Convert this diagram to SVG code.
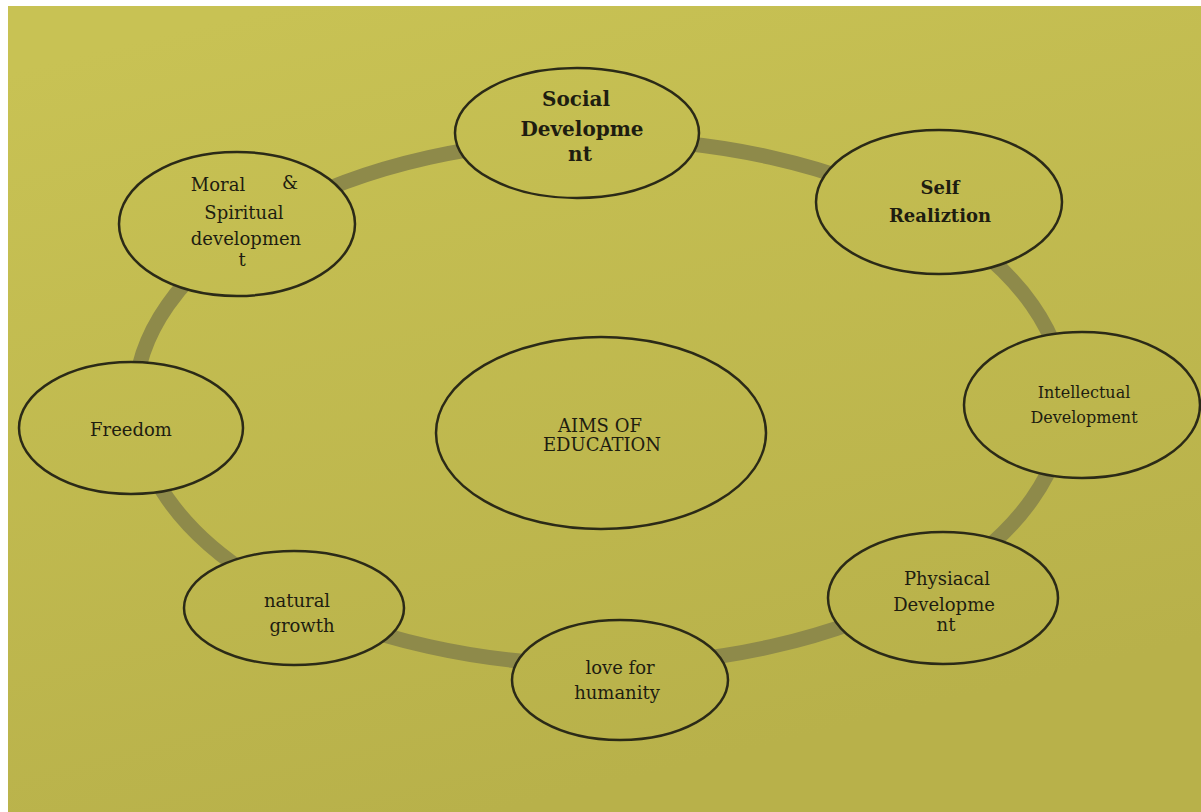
<svg xmlns="http://www.w3.org/2000/svg" width="1201" height="812" viewBox="0 0 1201 812">
<defs>
<linearGradient id="bg" gradientUnits="userSpaceOnUse" x1="300" y1="0" x2="500" y2="812">
<stop offset="0" stop-color="#c8c254"/>
<stop offset="1" stop-color="#b8b14a"/>
</linearGradient>
</defs>
<style>
.node{fill:url(#bg);stroke:#2b2a17;stroke-width:2.5}
.ring{fill:none;stroke:#8e8a4a;stroke-width:15}
.t{font-family:"DejaVu Serif","Liberation Serif",serif;fill:#1e1d10;text-anchor:middle}
.b{font-weight:bold}
.s20{font-size:20px}
.s18{font-size:18px}
.s16{font-size:16px}
</style>
<rect x="0" y="0" width="1201" height="812" fill="#ffffff"/>
<rect x="8" y="6" width="1193" height="806" fill="url(#bg)"/>
<g id="connectors">
<ellipse class="ring" cx="600" cy="402" rx="465" ry="263"/>
</g>
<g id="center">
<ellipse class="node" cx="601" cy="433" rx="165" ry="96"/>
<text class="t s18" x="600" y="432" font-family="DejaVu Serif, serif">AIMS OF</text>
<text class="t s18" x="602" y="451" font-family="DejaVu Serif, serif">EDUCATION</text>
</g>
<g id="social">
<ellipse class="node" cx="577" cy="133" rx="122" ry="65"/>
<text class="t b s20" x="576" y="106" font-family="DejaVu Serif, serif">Social</text>
<text class="t b s20" x="582" y="136" font-family="DejaVu Serif, serif">Developme</text>
<text class="t b s20" x="580" y="161" font-family="DejaVu Serif, serif">nt</text>
</g>
<g id="self">
<ellipse class="node" cx="939" cy="202" rx="123" ry="72"/>
<text class="t b s18" x="940" y="194" font-family="DejaVu Serif, serif">Self</text>
<text class="t b s18" x="940" y="222" font-family="DejaVu Serif, serif">Realiztion</text>
</g>
<g id="intellectual">
<ellipse class="node" cx="1082" cy="405" rx="118" ry="73"/>
<text class="t s16" x="1084" y="398" font-family="DejaVu Serif, serif">Intellectual</text>
<text class="t s16" x="1084" y="423" font-family="DejaVu Serif, serif">Development</text>
</g>
<g id="physical">
<ellipse class="node" cx="943" cy="598" rx="115" ry="66"/>
<text class="t s18" x="947" y="585" font-family="DejaVu Serif, serif">Physiacal</text>
<text class="t s18" x="944" y="611" font-family="DejaVu Serif, serif">Developme</text>
<text class="t s18" x="946" y="631" font-family="DejaVu Serif, serif">nt</text>
</g>
<g id="love">
<ellipse class="node" cx="620" cy="680" rx="108" ry="60"/>
<text class="t s18" x="620" y="674" font-family="DejaVu Serif, serif">love for</text>
<text class="t s18" x="617" y="699" font-family="DejaVu Serif, serif">humanity</text>
</g>
<g id="natural">
<ellipse class="node" cx="294" cy="608" rx="110" ry="57"/>
<text class="t s18" x="297" y="607" font-family="DejaVu Serif, serif">natural</text>
<text class="t s18" x="302" y="632" font-family="DejaVu Serif, serif">growth</text>
</g>
<g id="freedom">
<ellipse class="node" cx="131" cy="428" rx="112" ry="66"/>
<text class="t s18" x="131" y="436" font-family="DejaVu Serif, serif">Freedom</text>
</g>
<g id="moral">
<ellipse class="node" cx="237" cy="224" rx="118" ry="72"/>
<text class="t s18" x="218" y="191" font-family="DejaVu Serif, serif">Moral</text>
<text class="t s18" x="290" y="189" font-family="DejaVu Serif, serif">&amp;</text>
<text class="t s18" x="244" y="219" font-family="DejaVu Serif, serif">Spiritual</text>
<text class="t s18" x="246" y="245" font-family="DejaVu Serif, serif">developmen</text>
<text class="t s18" x="242" y="266" font-family="DejaVu Serif, serif">t</text>
</g>
</svg>
